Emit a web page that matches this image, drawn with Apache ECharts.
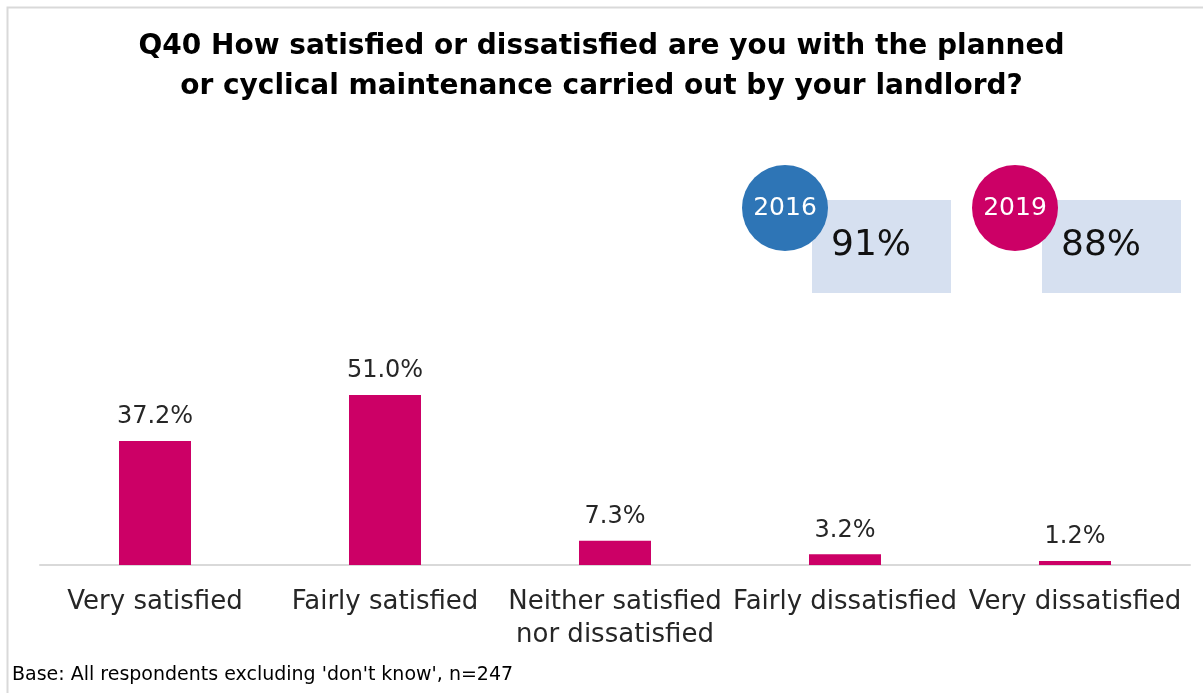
<!DOCTYPE html>
<html>
<head>
<meta charset="utf-8">
<script src="https://cdn.jsdelivr.net/npm/echarts@6/dist/echarts.min.js"></script>
<style>
  html, body { margin: 0; padding: 0; background: #ffffff; }
  #chart { width: 1203px; height: 693px; }
</style>
</head>
<body>
<div id="chart"></div>
<script>
// Satisfaction with planned / cyclical maintenance (2019 survey)
const categories = [
  'Very satisfied',
  'Fairly satisfied',
  'Neither satisfied\nnor dissatisfied',
  'Fairly dissatisfied',
  'Very dissatisfied'
];
const values2019 = [37.2, 51.0, 7.3, 3.2, 1.2];

// Overall satisfaction headline figures by survey year
const badgeYears = ['2016', '2019'];
const badgeTotals = [91, 88];
const badgeColors = ['#2E75B6', '#CC0066'];

const FONT = '"DejaVu Sans", "Liberation Sans", Arial, sans-serif';
const chart = echarts.init(document.getElementById('chart'), null, { renderer: 'canvas' });

// Badge: coloured year circle overlapping a pale box with the total
function badge(i, cx) {
  return [
    {
      type: 'rect',
      shape: { x: cx + 27, y: 200, width: 139, height: 93 },
      style: { fill: '#D6E0F0' },
      z: 1
    },
    {
      type: 'text',
      x: cx + 86, y: 246,
      style: {
        text: badgeTotals[i] + '%',
        font: '36px ' + FONT,
        fill: '#111111',
        align: 'center',
        verticalAlign: 'middle'
      },
      z: 3
    },
    {
      type: 'circle',
      shape: { cx: cx, cy: 208, r: 43 },
      style: { fill: badgeColors[i] },
      z: 2
    },
    {
      type: 'text',
      x: cx, y: 208,
      style: {
        text: badgeYears[i],
        font: '25px ' + FONT,
        fill: '#ffffff',
        align: 'center',
        verticalAlign: 'middle'
      },
      z: 3
    }
  ];
}

const option = {
  backgroundColor: '#ffffff',
  animation: false,
  title: {
    text: 'Q40 How satisfied or dissatisfied are you with the planned\nor cyclical maintenance carried out by your landlord?',
    left: 'center',
    top: 22,
    textStyle: {
      fontFamily: FONT,
      fontWeight: 'bold',
      fontSize: 28,
      lineHeight: 40,
      color: '#000000'
    }
  },
  grid: { left: 40, right: 13, top: 365, bottom: 128, containLabel: false },
  xAxis: {
    type: 'category',
    data: categories,
    axisLine: { show: true, lineStyle: { color: '#D9D9D9', width: 2 } },
    axisTick: { show: false },
    axisLabel: {
      interval: 0,
      margin: 21,
      fontFamily: FONT,
      fontSize: 26,
      lineHeight: 33,
      color: '#262626'
    }
  },
  yAxis: {
    type: 'value',
    min: 0,
    max: 60,
    show: false,
    splitLine: { show: false }
  },
  series: [{
    type: 'bar',
    data: values2019,
    barWidth: 72,
    itemStyle: { color: '#CC0066' },
    label: {
      show: true,
      position: 'top',
      distance: 12,
      fontFamily: FONT,
      fontSize: 24,
      color: '#262626',
      formatter: p => p.value.toFixed(1) + '%'
    }
  }],
  graphic: [
    // chart frame
    {
      type: 'polyline',
      shape: { points: [[7.5, 693], [7.5, 7.5], [1203, 7.5]] },
      style: { stroke: '#D9D9D9', lineWidth: 2, fill: null }
    },
    ...badge(0, 785),
    ...badge(1, 1015),
    {
      type: 'text',
      left: 12,
      top: 666,
      style: {
        text: "Base: All respondents excluding 'don't know', n=247",
        font: '19px ' + FONT,
        fill: '#000000'
      }
    }
  ]
};

chart.setOption(option);
</script>
</body>
</html>
